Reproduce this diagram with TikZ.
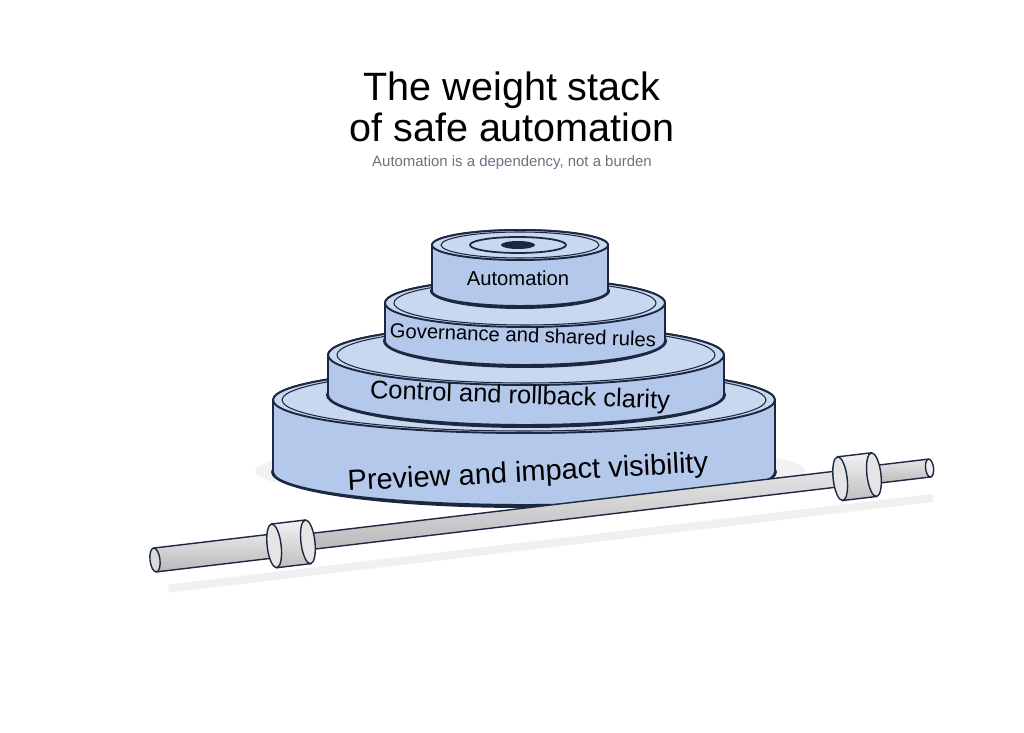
\documentclass[tikz,border=0pt]{standalone}
\usepackage{fontspec}
\setmainfont{Liberation Sans}
\usetikzlibrary{positioning}
\definecolor{plateTop}{HTML}{C8D8F0}
\definecolor{plateSide}{HTML}{B3C8EA}
\definecolor{plateLine}{HTML}{1C2740}
\definecolor{subGray}{HTML}{6B7280}
\newcommand\weightplate[5]{% cx, topY, rx, ry, thickness
  \fill[plateLine] (#1,{#2-#5}) ellipse[x radius={#3+2}, y radius={#4+3}];
  \filldraw[fill=plateSide, draw=plateLine, line width=1.1pt]
    ({#1-#3},#2) -- ({#1-#3},{#2-#5})
    arc[start angle=180, end angle=360, x radius=#3, y radius=#4]
    -- ({#1+#3},#2) arc[start angle=0, end angle=180, x radius=#3, y radius=#4] -- cycle;
  \filldraw[fill=plateTop, draw=plateLine, line width=1.1pt] (#1,#2) ellipse[x radius=#3, y radius=#4];
  \draw[plateLine, line width=0.6pt] (#1,#2) ellipse[x radius={#3-9}, y radius={#4-2}];
}
\begin{document}
\begin{tikzpicture}[x=0.02cm, y=0.02cm]
  \tikzset{PlateLabel/.style={text=black, font=\fontsize{15}{18}\selectfont}}
  \useasboundingbox (0,0) rectangle (1024,733);
  \fill[white] (0,0) rectangle (1024,733);
  % title
  \node (title) [align=center, font=\fontsize{22.5}{23}\selectfont] at (512,626) {The weight stack\\of safe automation};
  \node (subtitle) [text=subGray, font=\fontsize{8.5}{10}\selectfont, below=1pt of title] {Automation is a dependency, not a burden};
  % shadow
  \fill[gray!10] (530,262) ellipse[x radius=275, y radius=30];
  % plates
  \weightplate{524}{333}{251}{33}{72}
  \weightplate{526}{378}{198}{30}{40}
  \weightplate{525}{430}{140}{24}{38}
  \weightplate{520}{488}{88}{15}{46}
  \draw[plateLine, line width=1pt] (518,488) ellipse[x radius=48, y radius=8];
  \fill[plateLine] (518,488) ellipse[x radius=17, y radius=4];
  % labels
  \node (lblAuto) [PlateLabel, font=\fontsize{11.5}{13}\selectfont] at (518,455) {Automation};
  \node (lblGov) [PlateLabel, font=\fontsize{11.5}{13}\selectfont, rotate=-2] at (523,398) {Governance and shared rules};
  \node (lblCtrl) [PlateLabel, font=\fontsize{14.5}{16}\selectfont, rotate=-2] at (520,336) {Control and rollback clarity};
  \node (lblPrev) [PlateLabel, font=\fontsize{16.5}{18}\selectfont, rotate=3] at (528,259) {Preview and impact visibility};
  % barbell
  \begin{scope}[shift={(155,173)}, rotate=6.77]
    \fill[gray!12] (10,-26) rectangle (780,-34);
    \shade[top color=gray!20, bottom color=gray!55, draw=plateLine, line width=0.8pt] (120,-8) rectangle (720,8);
    \shade[top color=gray!20, bottom color=gray!55, draw=plateLine, line width=0.8pt] (0,-12) rectangle (125,12);
    \shade[top color=gray!20, bottom color=gray!55, draw=plateLine, line width=0.8pt] (715,-9) rectangle (780,9);
    \filldraw[fill=gray!30, draw=plateLine, line width=0.8pt] (0,0) ellipse[x radius=5, y radius=12];
    \filldraw[fill=gray!15, draw=plateLine, line width=0.8pt] (780,0) ellipse[x radius=4, y radius=9];
    \foreach \cx in {140, 710} {
      \shade[top color=gray!10, bottom color=gray!50, draw=plateLine, line width=0.8pt] ({\cx-20},-22) rectangle ({\cx+14},22);
      \filldraw[fill=gray!20, draw=plateLine, line width=0.8pt] ({\cx-20},0) ellipse[x radius=7, y radius=22];
      \filldraw[fill=gray!20, draw=plateLine, line width=0.8pt] ({\cx+14},0) ellipse[x radius=7, y radius=22];
    }
  \end{scope}
\end{tikzpicture}
\end{document}
